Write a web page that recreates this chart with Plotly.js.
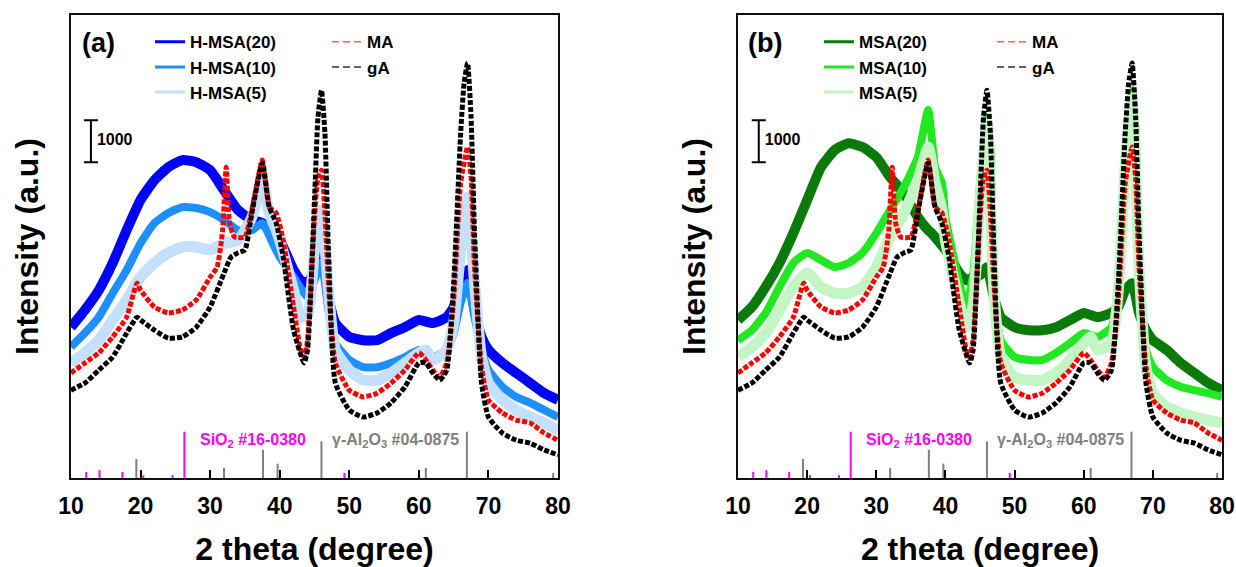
<!DOCTYPE html>
<html><head><meta charset="utf-8">
<script src="https://cdn.plot.ly/plotly-3.0.1.min.js"></script>
<style>html,body{margin:0;padding:0;background:#fff}#chart{width:1236px;height:567px}</style>
</head><body><div id="chart"></div>
<script>
// ---------- data (2 theta in degrees, intensity in counts) ----------
const hmsa20X = [10,12,14,16,18,20,22,24,26,28,30,32,34,36,37.5,39,40,42,43,44,45,46,47,48,50,52,54,56,58,60,62,64,65,66,67,68,69,70,72,74,76,78,80];
const hmsa20Y = [3590,4000,4470,5120,5900,6620,7090,7400,7570,7520,7330,6850,6380,6140,6070,5800,5660,4950,4710,4640,4950,5470,4310,3690,3360,3280,3280,3450,3590,3760,3690,3830,4070,4640,4950,4000,3360,3050,2740,2500,2260,2020,1860];

const hmsa10X = [10,12,14,16,18,20,22,24,26,28,30,32,34,36,37.5,39,40,42,44,45,46,47,48,50,52,54,56,58,60,62,64,65,66,67,68,69,70,72,74,76,78,80];
const hmsa10Y = [3120,3450,3830,4400,4950,5590,6070,6310,6450,6430,6330,6140,5900,5900,6070,5590,5260,4780,4310,4710,5120,4000,3210,2810,2640,2640,2740,2880,3050,2880,3050,3450,4170,4640,3830,3050,2570,2170,1930,1790,1620,1450];

const hmsa5X = [10,12,14,16,18,20,22,24,26,28,30,32,34,36,37.5,38.5,39.5,40,42,43,44,45,46,47,48,50,52,54,56,58,60,61,62,64,65,66,67,68,69,70,72,74,76,78,80];
const hmsa5Y = [2740,2980,3280,3760,4240,4780,5120,5360,5500,5500,5430,5590,5660,6210,7090,6310,5900,5660,4470,3830,3880,5430,6380,4470,3050,2570,2330,2330,2500,2740,2980,3050,2810,3050,3690,5430,6690,4640,2880,2260,1860,1620,1450,1310,1140];

const msa20X = [10,12,14,16,18,20,22,24,26,28,30,32,34,36,37.5,38,40,42,43,44,45,46,47,48,50,52,54,56,58,60,62,64,65,66,67,68,69,70,72,74,76,78,80];
const msa20Y = [3760,4070,4550,5120,5830,6620,7400,7810,7970,7880,7640,7160,6780,6210,5900,5830,5430,4880,4710,4780,4830,5020,4310,3830,3590,3520,3520,3590,3760,3930,3830,3930,4070,4470,4640,3930,3520,3280,3050,2740,2500,2260,2090];

const msa10X = [10,12,14,16,18,20,22,24,26,28,30,32,34,36,37.5,38.5,39.5,40,42,43,44,45,46,46.5,47,48,50,52,54,56,58,60,62,64,65,66,67,67.5,68,69,70,72,74,76,78,80];
const msa10Y = [3280,3520,3930,4550,5120,5360,5190,5020,5120,5360,5830,6380,6930,7640,8760,7400,7020,6210,4640,4070,4830,7020,8590,7810,4640,3280,2880,2810,2810,2980,3210,3450,3360,3590,4640,7810,9230,8210,5430,3050,2640,2330,2170,2090,2020,1930];

const msa5X = [10,12,14,16,18,20,22,24,26,28,30,32,34,36,37.5,38.5,39.5,40,42,43,44,45,46,47,48,50,52,54,56,58,60,61,62,64,65,66,67,68,69,70,72,74,76,78,80];
const msa5Y = [2880,3120,3450,4000,4550,4880,4550,4400,4400,4550,5020,5740,6310,7090,7880,7020,6380,5660,4170,3590,4120,6620,8450,4470,2880,2400,2330,2330,2500,2810,3210,3360,3050,3210,4470,7400,9070,5020,2640,2020,1690,1550,1450,1380,1310];

const maX = [10,12,14,16,18,19.5,20,22,24,26,28,30,31,31.8,32.3,32.8,33.5,35,36,37.5,38.5,39.5,40.5,42,43,43.5,44,45,45.5,46,46.5,47,48,50,52,54,56,58,60,61,62,63,64,65,66,67,67.5,68,69,70,72,74,76,78,80];
const maY = [2500,2740,2980,3360,3830,4640,4470,4070,3930,4000,4240,4780,5020,5900,7400,6070,5740,5740,6380,7570,6450,6310,5660,4070,3050,2880,3280,6210,7160,7330,6310,4640,2740,2090,1930,2020,2260,2570,2980,2810,2570,2400,2740,4240,7020,7880,7160,5020,2640,1860,1550,1380,1310,1070,900];

const gaX = [10,12,14,16,18,19.5,20,22,24,26,28,30,32,33,34,35,36,37.5,38.5,39.5,40.5,42,43.5,44,45,45.5,46,46.5,47,48,50,52,54,56,58,60,61,62,63,64,65,66,66.5,67,67.5,68,69,70,72,74,76,78,80];
const gaY = [2090,2260,2570,2880,3450,3830,3760,3520,3330,3360,3590,4070,4880,5260,5360,5430,6310,7500,6450,6070,5260,3520,2740,3050,6620,8590,9230,8210,5430,2260,1620,1450,1550,1790,2170,2740,2740,2500,2330,2570,4640,8210,9400,9880,8590,5830,2260,1450,1070,900,830,670,550];

// reference patterns (relative intensity, %)
const sio2X = [12.2,14.1,17.4,20.4,24.6,26.3,49.3];
const sio2I = [13,17,13,6,6,100,11];
const al2o3X = [19.4,32.0,37.6,39.7,46.0,61.0,66.9,79.3];
const al2o3I = [41,22,61,31,79,22,100,11];

const xTicks = [10,20,30,40,50,60,70,80];
const scaleBar = 1000;

const namesA = ['H-MSA(20)','H-MSA(10)','H-MSA(5)'];
const namesB = ['MSA(20)','MSA(10)','MSA(5)'];
const refNames = ['MA','gA'];

// ---------- styling ----------
const FONT = 'Liberation Sans, Arial, sans-serif';
const colA = ['#0000FF','#1E8FFF','#C4E0FC'];
const colB = ['#0A7A0A','#22E822','#C4F5C4'];
const colRef = ['#FF0000','#000000'];

function band(x,y,color,width,xa,ya,dash){
  return {type:'scatter',mode:'lines',x:x,y:y,xaxis:xa,yaxis:ya,showlegend:false,hoverinfo:'skip',
    line:{color:color,width:width,shape:'spline',smoothing:0.5,dash:dash||'solid'}};
}
function sticks(xs,hs,color,xa,ya){
  const X=[],Y=[];
  xs.forEach((v,i)=>{X.push(v,v,null);Y.push(0,hs[i],null);});
  return {type:'scatter',mode:'lines',x:X,y:Y,xaxis:xa,yaxis:ya,showlegend:false,hoverinfo:'skip',
    line:{color:color,width:2}};
}
function legItem(name,color,width,dash,leg){
  return {type:'scatter',mode:'lines',x:[null],y:[null],xaxis:'x',yaxis:'y',name:name,legend:leg,
    line:{color:color,width:width,dash:dash||'solid'},hoverinfo:'skip'};
}
function bar(xa,ya,xpos,ypos){
  return {type:'scatter',mode:'markers+text',x:[xpos],y:[ypos],xaxis:xa,yaxis:ya,showlegend:false,hoverinfo:'skip',
    marker:{size:8,color:'rgba(0,0,0,0)'},text:[String(scaleBar)],textposition:'middle right',
    textfont:{family:FONT,size:16,weight:'bold',color:'#000'},
    error_y:{type:'data',array:[scaleBar/2],symmetric:true,width:7,thickness:2,color:'#000'}};
}

const traces = [
  band(hmsa20X,hmsa20Y,colA[0],10,'x','y'),
  band(hmsa10X,hmsa10Y,colA[1],8,'x','y'),
  band(hmsa5X,hmsa5Y,colA[2],11,'x','y'),
  band(maX,maY,colRef[0],5,'x','y','5px,2px'),
  band(gaX,gaY,colRef[1],5,'x','y','5px,2px'),
  band(msa20X,msa20Y,colB[0],10,'x2','y2'),
  band(msa10X,msa10Y,colB[1],8,'x2','y2'),
  band(msa5X,msa5Y,colB[2],11,'x2','y2'),
  band(maX,maY,colRef[0],5,'x2','y2','5px,2px'),
  band(gaX,gaY,colRef[1],5,'x2','y2','5px,2px'),
  sticks(sio2X,sio2I,'#FF00FF','x','y3'),
  sticks(al2o3X,al2o3I,'#808080','x','y3'),
  sticks(sio2X,sio2I,'#FF00FF','x2','y4'),
  sticks(al2o3X,al2o3I,'#808080','x2','y4'),
  bar('x','y',12.87,8020),
  bar('x2','y2',13.0,8020),
  legItem(namesA[0],colA[0],3,'solid','legend'),
  legItem(namesA[1],colA[1],3,'solid','legend'),
  legItem(namesA[2],colA[2],3,'solid','legend'),
  legItem(refNames[0],'#FF6060',1.5,'7px,4px','legend2'),
  legItem(refNames[1],'#303030',1.5,'7px,4px','legend2'),
  legItem(namesB[0],colB[0],3,'solid','legend3'),
  legItem(namesB[1],colB[1],3,'solid','legend3'),
  legItem(namesB[2],colB[2],3,'solid','legend3'),
  legItem(refNames[0],'#FF6060',1.5,'7px,4px','legend4'),
  legItem(refNames[1],'#303030',1.5,'7px,4px','legend4')
];

function axX(domain,anchor){
  return {domain:domain,anchor:anchor,range:[10,80],tickvals:xTicks,ticks:'inside',ticklen:8,tickwidth:2,tickcolor:'#000',
    showline:true,linewidth:2,linecolor:'#111',mirror:true,showgrid:false,zeroline:false,ticklabelstandoff:6,
    tickfont:{family:FONT,size:23,weight:'bold',color:'#000'},
    title:{text:'2 theta (degree)',font:{family:FONT,size:32,weight:'bold',color:'#000'},standoff:22}};
}
function axY(anchor){
  return {anchor:anchor,range:[0,11024],showticklabels:false,ticks:'',showline:true,linewidth:2,linecolor:'#111',
    mirror:true,showgrid:false,zeroline:false,
    title:{text:'Intensity (a.u.)',font:{family:FONT,size:32,weight:'bold',color:'#000'},standoff:21}};
}
const legBase = {font:{family:FONT,size:17,weight:'bold',color:'#000'},bgcolor:'rgba(0,0,0,0)',borderwidth:0,
  xanchor:'left',yanchor:'top',tracegroupgap:0,orientation:'v'};

function annText(text,x,xa,ya,color){
  return {text:text,x:x,y:904,xref:xa,yref:ya,xanchor:'left',yanchor:'middle',showarrow:false,
    font:{family:FONT,size:16,weight:'bold',color:color}};
}

const layout = {
  width:1236,height:567,margin:{l:0,r:0,t:15,b:89},paper_bgcolor:'#fff',plot_bgcolor:'#fff',
  font:{family:FONT,color:'#000'},showlegend:true,
  xaxis:axX([0.0574,0.4515],'y'),yaxis:axY('x'),
  xaxis2:axX([0.5971,0.9887],'y2'),yaxis2:axY('x2'),
  yaxis3:{overlaying:'y',anchor:'x',range:[0,1000],visible:false},
  yaxis4:{overlaying:'y2',anchor:'x2',range:[0,1000],visible:false},
  legend:Object.assign({},legBase,{x:0.1214,y:0.980}),
  legend2:Object.assign({},legBase,{x:0.2646,y:0.980}),
  legend3:Object.assign({},legBase,{x:0.6626,y:0.980}),
  legend4:Object.assign({},legBase,{x:0.8026,y:0.980}),
  annotations:[
    {text:'(a)',x:0.0793,y:0.9395,xref:'paper',yref:'paper',showarrow:false,xanchor:'center',yanchor:'middle',
      font:{family:FONT,size:27,weight:'bold',color:'#000'}},
    {text:'(b)',x:0.6189,y:0.9395,xref:'paper',yref:'paper',showarrow:false,xanchor:'center',yanchor:'middle',
      font:{family:FONT,size:27,weight:'bold',color:'#000'}},
    annText('SiO<sub>2</sub> #16-0380',28.2,'x','y','#FF00FF'),
    annText('γ-Al<sub>2</sub>O<sub>3</sub> #04-0875',47.2,'x','y','#808080'),
    annText('SiO<sub>2</sub> #16-0380',28.2,'x2','y2','#FF00FF'),
    annText('γ-Al<sub>2</sub>O<sub>3</sub> #04-0875',47.2,'x2','y2','#808080')
  ]
};

Plotly.newPlot('chart',traces,layout,{staticPlot:true,displayModeBar:false});
</script></body></html>
